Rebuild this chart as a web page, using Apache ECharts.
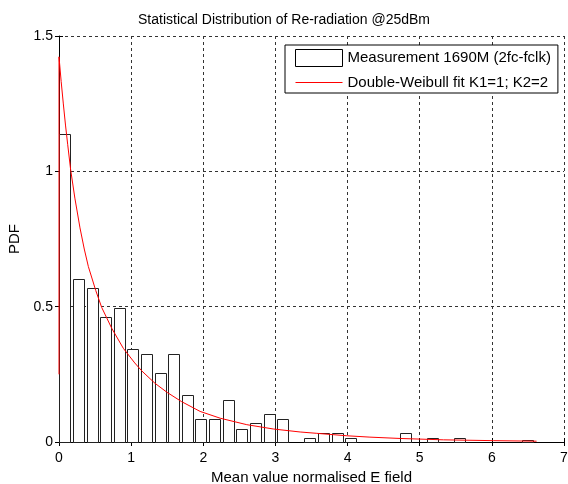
<!DOCTYPE html>
<html>
<head>
<meta charset="utf-8">
<script src="https://cdn.jsdelivr.net/npm/echarts@6/dist/echarts.min.js"></script>
<style>
html,body{margin:0;padding:0;background:#fff;}
#chart{width:568px;height:484px;}
</style>
</head>
<body>
<div id="chart"></div>
<script>
// Histogram bin centres (35 bins) and measured PDF values
var binCenters = [0.085,0.273,0.462,0.651,0.839,1.028,1.216,1.405,1.594,1.782,
                  1.971,2.159,2.348,2.537,2.725,2.914,3.102,3.291,3.480,3.668,
                  3.857,4.045,4.234,4.423,4.611,4.800,4.989,5.177,5.366,5.554,
                  5.743,5.932,6.120,6.309,6.497];
var binValues  = [1.138,0.602,0.568,0.463,0.496,0.344,0.326,0.256,0.326,0.174,
                  0.085,0.085,0.155,0.049,0.069,0.105,0.085,0,0.014,0.033,
                  0.033,0.016,0,0,0,0.034,0,0.016,0,0.016,
                  0,0,0,0,0.006];
var binWidth = 0.1886;

// Double-Weibull fit curve
var curveX = [0,0,0.03,0.06,0.09,0.12,0.162,0.22,0.291,0.35,0.407,0.509,0.592,0.731,0.892,1.05,1.15,1.33,1.5,1.70,1.956,2.233,2.603,2.972,3.343,3.574,3.99,4.31,4.73,5.33,6.02,6.62];
var curveY = [0.25,1.423,1.332,1.249,1.171,1.100,1.005,0.901,0.791,0.713,0.648,0.560,0.497,0.420,0.346,0.292,0.262,0.217,0.183,0.149,0.113,0.088,0.064,0.048,0.037,0.032,0.023,0.018,0.013,0.008,0.005,0.003];

var xTicks = {min:0, max:7, interval:1};
var yTicks = {min:0, max:1.5, interval:0.5};

var histData = binCenters.map(function(c,i){return [c, binValues[i]];});
var curveData = curveX.map(function(x,i){return [x, curveY[i]];});

var chart = echarts.init(document.getElementById('chart'), null, {renderer:'canvas'});
var font = 'Liberation Sans, Arial, sans-serif';
var gridLine = {color:'#333', type:[3,3], width:1};

var option = {
  animation:false,
  backgroundColor:'#fff',
  title:{
    text:'Statistical Distribution of Re-radiation @25dBm',
    left:'center', top:8,
    textStyle:{fontFamily:font, fontSize:14, fontWeight:'normal', color:'#000'}
  },
  legend:{
    orient:'vertical',
    left:285, top:45,
    backgroundColor:'#fff',
    borderColor:'#000', borderWidth:1, borderRadius:0,
    padding:[4,7,3,10],
    itemWidth:47, itemHeight:17, itemGap:8,
    textStyle:{fontFamily:font, fontSize:15, color:'#000'},
    data:[
      {name:'Measurement 1690M (2fc-fclk)', icon:'rect', itemStyle:{color:'#fff', borderColor:'#000', borderWidth:1}},
      {name:'Double-Weibull fit K1=1; K2=2', icon:'path://M0,0 L47,0 L47,1 L0,1 Z', itemStyle:{color:'#ff0000', borderWidth:0}}
    ]
  },
  grid:{left:59, right:4, top:36, bottom:42, containLabel:false, outerBoundsMode:'none'},
  xAxis:[{
    type:'value', min:xTicks.min, max:xTicks.max, interval:xTicks.interval,
    name:'Mean value normalised E field', nameLocation:'middle', nameGap:27,
    nameTextStyle:{fontFamily:font, fontSize:15, color:'#000'},
    axisLine:{show:true, lineStyle:{color:'#000', width:1}},
    axisTick:{show:true, inside:true, length:4, lineStyle:{color:'#000'}},
    axisLabel:{fontFamily:font, fontSize:14, color:'#000', margin:9},
    splitLine:{show:true, lineStyle:gridLine}
  },{
    type:'value', position:'top', min:xTicks.min, max:xTicks.max, interval:xTicks.interval,
    axisLine:{show:false},
    axisTick:{show:true, inside:true, length:4, lineStyle:{color:'#000'}},
    axisLabel:{show:false}, splitLine:{show:false}
  }],
  yAxis:[{
    type:'value', min:yTicks.min, max:yTicks.max, interval:yTicks.interval,
    name:'PDF', nameLocation:'middle', nameGap:37,
    nameTextStyle:{fontFamily:font, fontSize:15, color:'#000'},
    axisLine:{show:true, lineStyle:{color:'#000', width:1}},
    axisTick:{show:true, inside:true, length:4, lineStyle:{color:'#000'}},
    axisLabel:{fontFamily:font, fontSize:14, color:'#000', margin:6},
    splitLine:{show:true, lineStyle:gridLine}
  },{
    type:'value', position:'right', min:yTicks.min, max:yTicks.max, interval:yTicks.interval,
    axisLine:{show:false},
    axisTick:{show:true, inside:true, length:4, lineStyle:{color:'#000'}},
    axisLabel:{show:false}, splitLine:{show:false}
  }],
  series:[{
    name:'Measurement 1690M (2fc-fclk)',
    type:'custom',
    xAxisIndex:0, yAxisIndex:0,
    itemStyle:{color:'#fff', borderColor:'#000'},
    data:histData,
    renderItem:function(params, api){
      var c = api.value(0), v = api.value(1);
      if (!v) return null;
      var half = binWidth*0.42;
      var p0 = api.coord([c-half, v]);
      var p1 = api.coord([c+half, 0]);
      return {
        type:'rect',
        shape:{x:Math.round(p0[0])+0.5, y:Math.round(p0[1])+0.5, width:Math.round(p1[0]-p0[0]), height:Math.round(p1[1]-p0[1])},
        style:{fill:'#fff', stroke:'#222', lineWidth:1}
      };
    },
    z:3
  },{
    name:'Double-Weibull fit K1=1; K2=2',
    type:'line',
    xAxisIndex:0, yAxisIndex:0,
    data:curveData,
    symbol:'none', showSymbol:false,
    smooth:false,
    lineStyle:{color:'#ff0000', width:1},
    itemStyle:{color:'#ff0000'},
    z:4
  }]
};
chart.setOption(option);
</script>
</body>
</html>
